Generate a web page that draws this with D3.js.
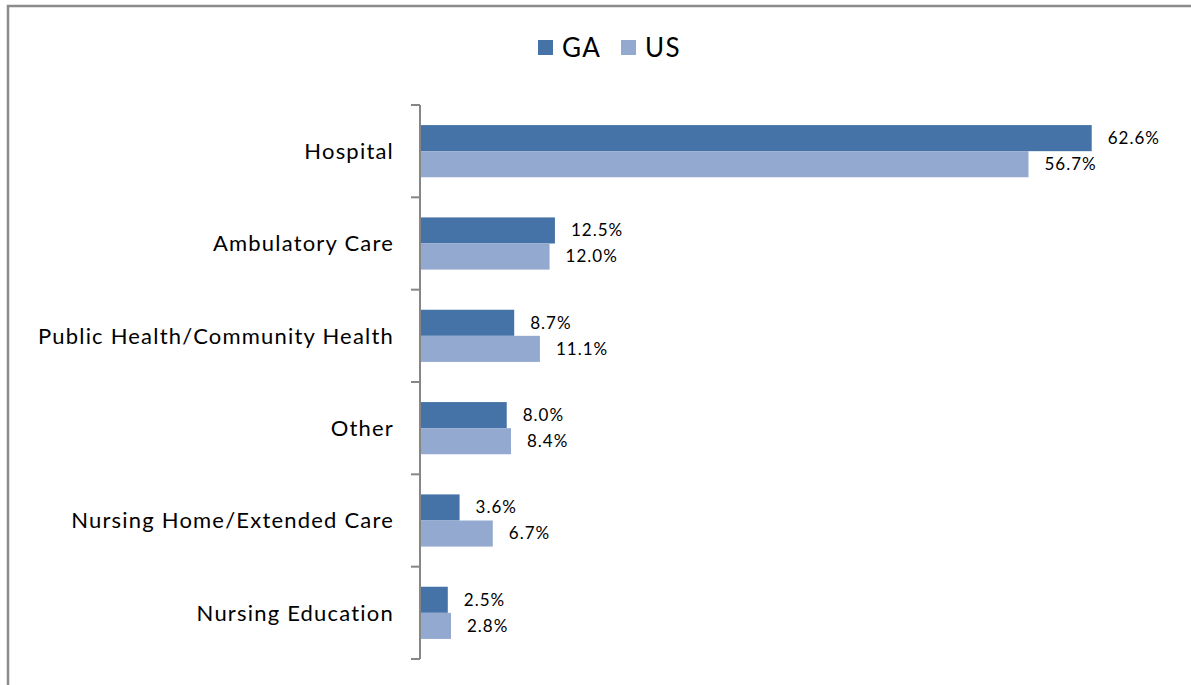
<!DOCTYPE html>
<html>
<head>
<meta charset="utf-8">
<script src="https://cdn.jsdelivr.net/npm/d3@7"></script>
<style>
    body { margin: 0; background: #fff; }
    svg text { font-family: Lato, "Open Sans", sans-serif; fill: #000; }
    .axis path, .axis line { stroke: #868686; stroke-width: 2; }
</style>
</head>
<body>
<div id="chart"></div>
<script>
(function () {'use strict';

// Data
var categories = [
    'Hospital',
    'Ambulatory Care',
    'Public Health/Community Health',
    'Other',
    'Nursing Home/Extended Care',
    'Nursing Education'
];
var seriesNames = ['GA', 'US'];
var gaValues = [62.6, 12.5, 8.7, 8.0, 3.6, 2.5];
var usValues = [56.7, 12.0, 11.1, 8.4, 6.7, 2.8];
var colors = ['#4572A7', '#94A9D0'];

var width = 1191,
    height = 685,
    margin = { top: 105, left: 420, bottom: 26 },
    plotWidth = 750,
    plotHeight = height - margin.top - margin.bottom;

var rows = categories.map(function (c, i) {
    return { name: c, values: [gaValues[i], usValues[i]] };
});

var svg = d3.select('#chart')
    .append('svg')
        .attr('width', width)
        .attr('height', height);

// Frame
svg.append('path')
    .attr('d', 'M8,' + height + 'V6H' + width)
    .attr('fill', 'none')
    .attr('stroke', '#8c8c8c')
    .attr('stroke-width', 2.5);

var chart = svg.append('g')
    .attr('transform', 'translate(' + margin.left + ',' + margin.top + ')');

var x = d3.scaleLinear().domain([0, 70]).range([0, plotWidth]);
var y = d3.scaleBand().domain(categories).range([0, plotHeight]).paddingInner(0.435).paddingOuter(0.2175);
var ySub = d3.scaleBand().domain(seriesNames).range([0, y.bandwidth()]);

// Axis with ticks at category boundaries
var step = plotHeight / categories.length;
var boundaries = d3.range(categories.length + 1).map(function (i) { return i * step; });
var axisG = chart.append('g').attr('class', 'axis');
axisG.append('line')
    .attr('x1', 0).attr('x2', 0)
    .attr('y1', 0).attr('y2', plotHeight);
axisG.selectAll('.tick')
    .data(boundaries)
    .enter().append('line')
        .attr('class', 'tick')
        .attr('x1', -9).attr('x2', 0)
        .attr('y1', function (d) { return d; })
        .attr('y2', function (d) { return d; });

// Category labels
chart.selectAll('.cat')
    .data(categories)
    .enter().append('text')
        .attr('class', 'cat')
        .attr('x', -26)
        .attr('y', function (d) { return y(d) + y.bandwidth() / 2; })
        .attr('dy', '0.35em')
        .attr('text-anchor', 'end')
        .style('font-size', '22px')
        .style('letter-spacing', '1.2px')
        .text(function (d) { return d; });

// Bars
var groups = chart.selectAll('.group')
    .data(rows)
    .enter().append('g')
        .attr('class', 'group')
        .attr('transform', function (d) { return 'translate(0,' + y(d.name) + ')'; });

groups.selectAll('rect')
    .data(function (d) { return d.values; })
    .enter().append('rect')
        .attr('x', x(0) + 1)
        .attr('y', function (d, i) { return ySub(seriesNames[i]); })
        .attr('height', ySub.bandwidth())
        .attr('width', function (d) { return x(d) - x(0); })
        .attr('fill', function (d, i) { return colors[i]; });

groups.selectAll('.val')
    .data(function (d) { return d.values; })
    .enter().append('text')
        .attr('class', 'val')
        .attr('x', function (d) { return x(d) + 17; })
        .attr('y', function (d, i) { return ySub(seriesNames[i]) + ySub.bandwidth() / 2; })
        .attr('dy', '0.35em')
        .style('font-size', '17px')
        .style('letter-spacing', '1px')
        .text(function (d) { return d.toFixed(1) + '%'; });

// Legend
var legend = svg.append('g')
    .attr('transform', 'translate(538,40)');
var legendOffsets = [0, 83];
var items = legend.selectAll('.item')
    .data(seriesNames)
    .enter().append('g')
        .attr('class', 'item')
        .attr('transform', function (d, i) { return 'translate(' + legendOffsets[i] + ',0)'; });
items.append('rect')
    .attr('width', 15)
    .attr('height', 15)
    .attr('fill', function (d, i) { return colors[i]; });
items.append('text')
    .attr('x', 24)
    .attr('y', 8)
    .attr('dy', '0.35em')
    .style('font-size', '26px')
    .style('letter-spacing', '1.5px')
    .text(function (d) { return d; });

})();
</script>
</body>
</html>
